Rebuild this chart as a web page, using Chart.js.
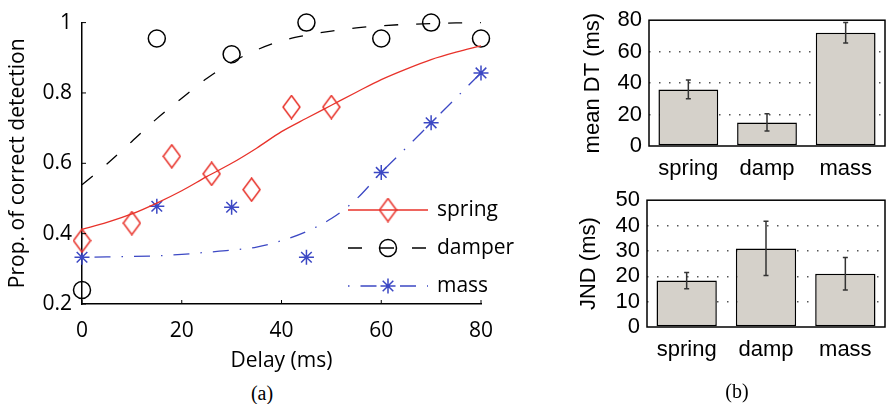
<!DOCTYPE html>
<html>
<head>
<meta charset="utf-8">
<script src="https://cdn.jsdelivr.net/npm/chart.js@4.4.1/dist/chart.umd.min.js"></script>
<style>
body{margin:0;background:#fff;width:886px;height:404px;overflow:hidden;position:relative}
canvas{position:absolute}
.cap{position:absolute;font-family:"Liberation Serif",serif;font-size:20px;color:#000;transform:translate(-50%,-50%)}
</style>
</head>
<body>
<canvas id="detect" width="545" height="380" style="left:0;top:0"></canvas>
<canvas id="meanDT" width="326" height="180" style="left:560px;top:0"></canvas>
<canvas id="jnd" width="326" height="204" style="left:560px;top:180px"></canvas>
<div class="cap" style="left:262px;top:393px">(a)</div>
<div class="cap" style="left:737px;top:391px">(b)</div>
<script>
// --- (a) measured proportions ---
const springX = [0, 10, 18, 26, 34, 42, 50];
const springY = [0.38, 0.43, 0.62, 0.57, 0.525, 0.76, 0.76];
const damperX = [0, 15, 30, 45, 60, 70, 80];
const damperY = [0.24, 0.955, 0.91, 1.0, 0.955, 1.0, 0.955];
const massX = [0, 15, 30, 45, 60, 70, 80];
const massY = [0.333, 0.478, 0.475, 0.333, 0.574, 0.715, 0.857];

const fitX = [0, 5, 10, 15, 20, 25, 30, 35, 40, 45, 50, 55, 60, 65, 70, 75, 80];
const springFit = [0.412, 0.432, 0.456, 0.487, 0.522, 0.562, 0.600, 0.643, 0.690, 0.728, 0.765, 0.802, 0.838, 0.868, 0.895, 0.916, 0.934];
const damperFit = [0.539, 0.598, 0.662, 0.727, 0.785, 0.841, 0.887, 0.922, 0.948, 0.964, 0.976, 0.985, 0.991, 0.995, 0.997, 0.999, 1.0];
const massFit = [0.333, 0.334, 0.335, 0.337, 0.341, 0.347, 0.353, 0.362, 0.380, 0.406, 0.443, 0.498, 0.574, 0.644, 0.715, 0.786, 0.857];

// --- (b) bars ---
const conditions = ["spring", "damp", "mass"];
const meanDT = [36, 15, 72];
const meanDTErr = [6, 5.5, 6.5];
const jnd = [18.3, 31, 21];
const jndErr = [3.2, 10.7, 6.4];

const RED = '#e8322a', BLUE = '#3c48c4', BLACK = '#000';

function diamond(color){
    const c = document.createElement('canvas');
    c.width = 19; c.height = 25;
    const g = c.getContext('2d');
    g.strokeStyle = color; g.lineWidth = 1.5;
    g.beginPath();
    g.moveTo(9.5, 1); g.lineTo(18, 12.5); g.lineTo(9.5, 24); g.lineTo(1, 12.5);
    g.closePath(); g.stroke();
    return c;
}

const pts = (xs, ys) => xs.map((x, i) => ({x, y: ys[i]}));

const series = [
    {label:'spring', x:springX, y:springY, fit:springFit, color:RED, dash:[], dashOffset:0, style:diamond(RED), radius:9},
    {label:'damper', x:damperX, y:damperY, fit:damperFit, color:BLACK, dash:[14,18], dashOffset:0, style:'circle', radius:8.5},
    {label:'mass', x:massX, y:massY, fit:massFit, color:BLUE, dash:[16,11,1.5,11], dashOffset:27, style:'star', radius:7.5}
];

const detectSets = [];
for(const s of series){
    detectSets.push({
        data: pts(fitX, s.fit), showLine:true, borderColor:s.color, borderWidth:1.3,
        borderDash:s.dash, borderDashOffset:s.dashOffset, pointRadius:0,
        cubicInterpolationMode:'monotone', fill:false, clip:false
    });
    detectSets.push({
        data: pts(s.x, s.y), showLine:false, pointStyle:s.style, pointRadius:s.radius,
        borderColor:s.color, backgroundColor:'rgba(0,0,0,0)', pointBorderWidth:1.5, clip:false
    });
}

const sans = {family:'"Open Sans"', size:21};

const lineLegend = {
    id:'lineLegend',
    afterDatasetsDraw(chart){
        const ctx = chart.ctx, a = chart.chartArea;
        const x0 = a.right - 133, x1 = a.right - 53, xm = (x0 + x1) / 2;
        series.forEach((s, i) => {
            const y = 210 + i * 38;
            ctx.save();
            ctx.strokeStyle = s.color; ctx.lineWidth = 1.3;
            ctx.setLineDash(s.dash); ctx.lineDashOffset = s.dashOffset;
            ctx.beginPath(); ctx.moveTo(x0, y); ctx.lineTo(x1, y); ctx.stroke();
            ctx.setLineDash([]); ctx.lineWidth = 1.5; ctx.fillStyle = 'rgba(0,0,0,0)';
            Chart.helpers.drawPoint(ctx, {pointStyle:s.style, radius:s.radius, borderWidth:1.5, rotation:0}, xm, y);
            ctx.fillStyle = '#000'; ctx.font = '21px "Open Sans"'; ctx.textBaseline = 'middle';
            ctx.fillText(s.label, x1 + 9, y);
            ctx.restore();
        });
    }
};

const innerTicks = {
    id:'innerTicks',
    afterDraw(chart){
        const {ctx, chartArea:a, scales:{x, y}} = chart;
        ctx.save(); ctx.strokeStyle = '#000'; ctx.lineWidth = 1;
        ctx.beginPath();
        x.ticks.forEach(t => { const px = x.getPixelForValue(t.value); ctx.moveTo(px, a.bottom); ctx.lineTo(px, a.bottom - 4); });
        y.ticks.forEach(t => { const py = y.getPixelForValue(t.value); ctx.moveTo(a.left, py); ctx.lineTo(a.left + 4, py); });
        ctx.stroke(); ctx.restore();
    }
};

new Chart(document.getElementById('detect'), {
    type:'scatter',
    data:{datasets:detectSets},
    options:{
        responsive:false, animation:false,
        layout:{padding:{top:19, right:64, left:0, bottom:0}},
        plugins:{legend:{display:false}, tooltip:{enabled:false}},
        scales:{
            x:{
                type:'linear', min:0, max:80,
                ticks:{stepSize:20, color:'#000', font:sans, padding:14},
                grid:{display:false, drawTicks:false},
                border:{display:true, color:'#000', width:1.5},
                title:{display:true, text:'Delay (ms)', color:'#000', font:sans, padding:{top:0, bottom:6}},
                afterFit: s => { s.height = 76; }
            },
            y:{
                min:0.2, max:1,
                ticks:{stepSize:0.2, color:'#000', font:sans, padding:10,
                    callback: v => String(Math.round(v * 10) / 10)},
                grid:{display:false, drawTicks:false},
                border:{display:true, color:'#000', width:1.5},
                title:{display:true, text:'Prop. of correct detection', color:'#000', font:sans, padding:{top:5, bottom:0}},
                afterFit: s => { s.width = 82; }
            }
        }
    },
    plugins:[innerTicks, lineLegend]
});

// --- (b) ---
const frame = {
    id:'frame',
    afterDatasetsDraw(chart){
        const {ctx, chartArea:a} = chart;
        ctx.save(); ctx.strokeStyle = '#000'; ctx.lineWidth = 1.5;
        ctx.strokeRect(a.left, a.top, a.right - a.left, a.bottom - a.top);
        ctx.restore();
    }
};

const errorBars = {
    id:'errorBars',
    afterDatasetsDraw(chart){
        const ctx = chart.ctx, y = chart.scales.y;
        const ds = chart.data.datasets[0];
        ctx.save(); ctx.strokeStyle = '#333'; ctx.lineWidth = 1.5;
        chart.getDatasetMeta(0).data.forEach((bar, i) => {
            const top = y.getPixelForValue(ds.data[i] + ds.errs[i]);
            const bot = y.getPixelForValue(ds.data[i] - ds.errs[i]);
            ctx.beginPath();
            ctx.moveTo(bar.x, top); ctx.lineTo(bar.x, bot);
            ctx.moveTo(bar.x - 2.5, top); ctx.lineTo(bar.x + 2.5, top);
            ctx.moveTo(bar.x - 2.5, bot); ctx.lineTo(bar.x + 2.5, bot);
            ctx.stroke();
        });
        ctx.restore();
    }
};

const helv = {family:'"Liberation Sans"', size:22};

function barChart(id, values, errs, max, step, title, yWidth, titlePad, topPad, xHeight){
    new Chart(document.getElementById(id), {
        type:'bar',
        data:{labels:conditions, datasets:[{
            data:values, errs:errs, backgroundColor:'#d5d1ca', borderColor:'#000',
            borderWidth:1.5, borderSkipped:false, barPercentage:0.76, categoryPercentage:1
        }]},
        options:{
            responsive:false, animation:false,
            layout:{padding:{top:topPad, right:1, left:0, bottom:0}},
            plugins:{legend:{display:false}, tooltip:{enabled:false}},
            scales:{
                x:{
                    grid:{display:false, drawTicks:false}, border:{display:false},
                    ticks:{color:'#000', font:helv, padding:10},
                    afterFit: s => { s.height = xHeight; }
                },
                y:{
                    min:0, max:max,
                    ticks:{stepSize:step, autoSkip:false, color:'#000', font:helv, padding:7},
                    grid:{drawTicks:false, lineWidth:1.5,
                        color: c => (c.tick.value === 0 || c.tick.value === max) ? 'rgba(0,0,0,0)' : '#555'},
                    border:{display:false, dash:[1.5, 8.5]},
                    title:{display:true, text:title, color:'#000', font:helv, padding:{top:titlePad, bottom:0}},
                    afterFit: s => { s.width = yWidth; }
                }
            }
        },
        plugins:[frame, errorBars]
    });
}

barChart('meanDT', meanDT, meanDTErr, 80, 20, 'mean DT (ms)', 89, 20, 16, 34);
barChart('jnd', jnd, jndErr, 50, 10, 'JND (ms)', 87, 16, 17, 57);
</script>
</body>
</html>
